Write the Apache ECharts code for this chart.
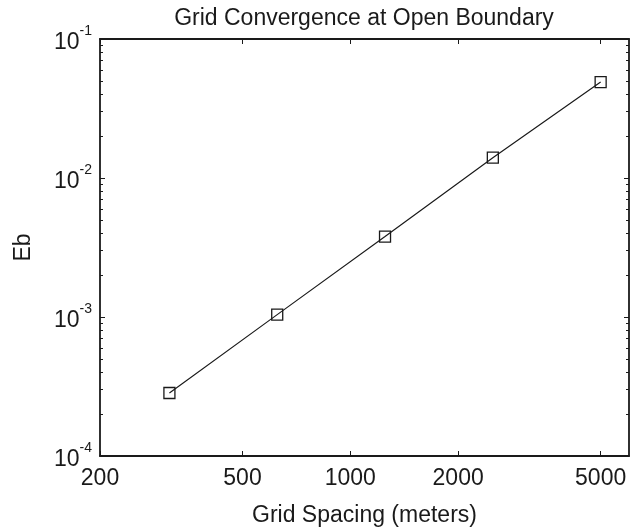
<!DOCTYPE html>
<html>
<head>
<meta charset="utf-8">
<script src="https://cdn.jsdelivr.net/npm/echarts@6/dist/echarts.min.js"></script>
<style>
html,body{margin:0;padding:0;background:#fff;}
#chart{width:630px;height:532px;}
</style>
</head>
<body>
<div id="chart"></div>
<script>
// ---- data ----
var gridSpacing = [312.5, 625, 1250, 2500, 5000];
var ebValues = [2.84e-4, 1.04e-3, 3.79e-3, 1.40e-2, 4.9e-2];
var xTickValues = [200, 500, 1000, 2000, 5000];
var yTickValues = [1e-4, 1e-3, 1e-2, 1e-1];
var yMinorTickValues = [2e-4,3e-4,4e-4,5e-4,6e-4,7e-4,8e-4,9e-4,
                        2e-3,3e-3,4e-3,5e-3,6e-3,7e-3,8e-3,9e-3,
                        2e-2,3e-2,4e-2,5e-2,6e-2,7e-2,8e-2,9e-2];
var titleText = 'Grid Convergence at Open Boundary';
var xName = 'Grid Spacing (meters)';
var yName = 'Eb';

var FONT = '"Liberation Sans", Arial, Helvetica, sans-serif';
var INK = '#1a1a1a';
var FS = 23;
var chart = echarts.init(document.getElementById('chart'));

function supLabel(v) {
  var e = Math.round(Math.log10(v));
  return '{b|10}{s|' + e + '}';
}

var baseY = {
  type: 'log', logBase: 10, min: 1e-4, max: 1e-1,
  axisLine: {show: true, lineStyle: {color: INK, width: 1.8}},
  splitLine: {show: false}
};
var baseX = {
  type: 'log', logBase: 10, min: 200, max: 6000,
  axisLine: {show: true, lineStyle: {color: INK, width: 1.8}},
  splitLine: {show: false}
};

var option = {
  animation: false,
  backgroundColor: '#fff',
  grid: {left: 100, right: 1, top: 39, bottom: 75, containLabel: false},
  graphic: [{
    type: 'text', x: 364, y: 7,
    style: {text: titleText, font: FS + 'px ' + FONT, fill: INK, align: 'center', verticalAlign: 'top'}
  }],
  xAxis: [
    Object.assign({}, baseX, {
      position: 'bottom',
      name: xName, nameLocation: 'middle', nameGap: 48,
      nameTextStyle: {fontFamily: FONT, fontSize: FS, color: INK},
      axisTick: {show: true, inside: true, length: 5, lineStyle: {color: INK, width: 1}, customValues: xTickValues},
      axisLabel: {show: true, margin: 11, fontFamily: FONT, fontSize: FS, color: INK, customValues: xTickValues,
        formatter: function (v) { return String(Math.round(v)); }}
    }),
    Object.assign({}, baseX, {
      position: 'top',
      axisTick: {show: true, inside: true, length: 5, lineStyle: {color: INK, width: 1}, customValues: xTickValues},
      axisLabel: {show: false}
    })
  ],
  yAxis: [
    Object.assign({}, baseY, {
      position: 'left',
      name: yName, nameLocation: 'middle', nameGap: 65, nameRotate: 90,
      nameTextStyle: {fontFamily: FONT, fontSize: FS, color: INK},
      axisTick: {show: true, inside: true, length: 5, lineStyle: {color: INK, width: 1}, customValues: yTickValues},
      axisLabel: {show: true, margin: 8, color: INK, customValues: yTickValues,
        formatter: supLabel,
        rich: {
          b: {fontFamily: FONT, fontSize: FS, color: INK, lineHeight: 30, verticalAlign: 'bottom'},
          s: {fontFamily: FONT, fontSize: 14, color: INK, lineHeight: 30, verticalAlign: 'top', padding: [0, 0, 14, 0]}
        }}
    }),
    Object.assign({}, baseY, {
      position: 'left',
      axisLine: {show: false},
      axisTick: {show: true, inside: true, length: 3, lineStyle: {color: INK, width: 1}, customValues: yMinorTickValues},
      axisLabel: {show: false}
    }),
    Object.assign({}, baseY, {
      position: 'right',
      axisTick: {show: true, inside: true, length: 5, lineStyle: {color: INK, width: 1}, customValues: yTickValues},
      axisLabel: {show: false}
    }),
    Object.assign({}, baseY, {
      position: 'right',
      axisLine: {show: false},
      axisTick: {show: true, inside: true, length: 3, lineStyle: {color: INK, width: 1}, customValues: yMinorTickValues},
      axisLabel: {show: false}
    })
  ],
  series: [{
    type: 'line',
    xAxisIndex: 0, yAxisIndex: 0,
    data: gridSpacing.map(function (x, i) { return [x, ebValues[i]]; }),
    symbol: 'rect', symbolSize: 11, showSymbol: true,
    lineStyle: {color: INK, width: 1.2},
    itemStyle: {color: 'rgba(0,0,0,0)', borderColor: INK, borderWidth: 1.3},
    z: 3
  }]
};
chart.setOption(option);
</script>
</body>
</html>
